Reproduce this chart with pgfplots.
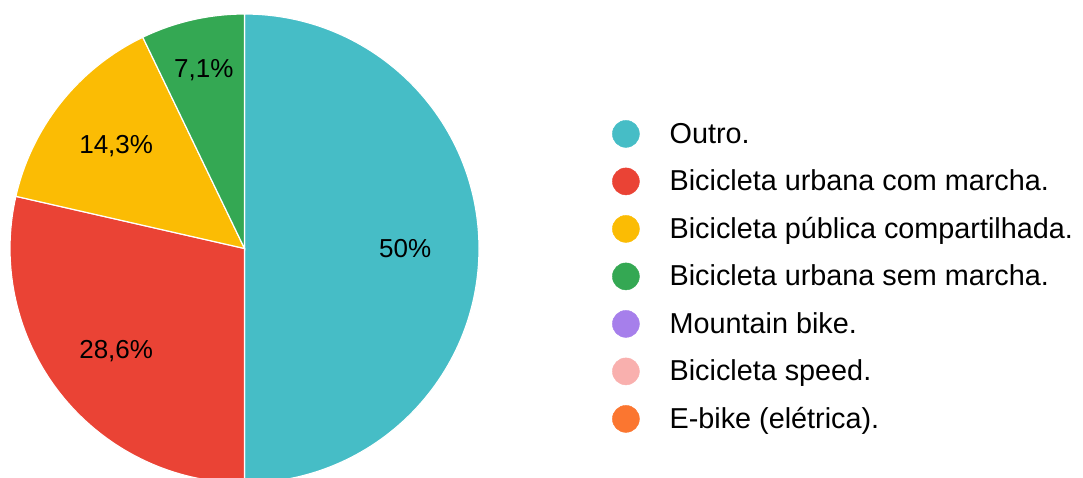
\documentclass[border=0pt]{standalone}
\usepackage{pgfplots}
\usepackage{pgfplotstable}
\pgfplotsset{compat=1.18}
\usepackage{fontspec}
\setmainfont{Liberation Sans}
\definecolor{cTeal}{HTML}{46BDC6}
\definecolor{cRed}{HTML}{EA4335}
\definecolor{cYellow}{HTML}{FBBC04}
\definecolor{cGreen}{HTML}{34A853}
\definecolor{cPurple}{HTML}{A67FEB}
\definecolor{cPink}{HTML}{F9B0AE}
\definecolor{cOrange}{HTML}{FB7630}

\pgfplotstableread{
name value
Outro 7
UrbanaCom 4
Publica 2
UrbanaSem 1
Mountain 0
Speed 0
Ebike 0
}\pietable

\newcommand\legfont{\fontsize{28.8}{34}\selectfont}
\newcommand\labfont{\fontsize{26}{31}\selectfont}

\newcommand\slice[3]{%
  \fill[#3, draw=white, line width=1.2pt] (axis cs:\cx,\cy) -- (axis cs:{\cx+\R*cos(#1)},{\cy+\R*sin(#1)}) arc[start angle=#1, end angle=#2, radius=\R pt] -- cycle;}
\newcommand\slabel[4]{%
  \node[font=\labfont, text=black, inner sep=0pt] at (axis cs:{\cx+#4*\R*cos((#1+#2)/2)},{\cy+#4*\R*sin((#1+#2)/2)}) {#3};}
\newcommand\legcirc[1]{\addlegendimage{legend image code/.code={\fill[#1] (13.5pt,2.2pt) circle (13.5pt);}}}

\begin{document}
\begin{tikzpicture}
\pgfplotstablegetelem{0}{value}\of\pietable\edef\vA{\pgfplotsretval}
\pgfplotstablegetelem{1}{value}\of\pietable\edef\vB{\pgfplotsretval}
\pgfplotstablegetelem{2}{value}\of\pietable\edef\vC{\pgfplotsretval}
\pgfplotstablegetelem{3}{value}\of\pietable\edef\vD{\pgfplotsretval}
\pgfplotstablegetelem{4}{value}\of\pietable\edef\vE{\pgfplotsretval}
\pgfplotstablegetelem{5}{value}\of\pietable\edef\vF{\pgfplotsretval}
\pgfplotstablegetelem{6}{value}\of\pietable\edef\vG{\pgfplotsretval}
\pgfmathsetmacro\tot{\vA+\vB+\vC+\vD+\vE+\vF+\vG}
\pgfmathsetmacro\aA{90}
\pgfmathsetmacro\aB{\aA-360*\vA/\tot}
\pgfmathsetmacro\aC{\aB-360*\vB/\tot}
\pgfmathsetmacro\aD{\aC-360*\vC/\tot}
\pgfmathsetmacro\aE{\aD-360*\vD/\tot}
\def\cx{244.5}
\def\cy{228.5}
\def\R{234.5}
\begin{axis}[
  x=1pt, y=1pt,
  xmin=0, xmax=1083, ymin=0, ymax=477,
  hide axis,
  legend cell align=left,
  legend style={at={(axis cs:612,357)}, anchor=north west, draw=none, fill=none,
    font=\legfont, inner sep=0pt, row sep=17.6pt,
    nodes={inner sep=0pt, text height=21pt, text depth=7pt},
    /tikz/every odd column/.style={column sep=30pt}},
]
\path (axis cs:0,0) rectangle (axis cs:1083,477);
\slice{\aA}{\aB}{cTeal}
\slice{\aB}{\aC}{cRed}
\slice{\aC}{\aD}{cYellow}
\slice{\aD}{\aE}{cGreen}
\slabel{\aA}{\aB}{50\%}{0.685}
\slabel{\aB}{\aC}{28,6\%}{0.70}
\slabel{\aC}{\aD}{14,3\%}{0.70}
\slabel{\aD}{\aE}{7,1\%}{0.78}
\legcirc{cTeal}
\addlegendentry{Outro.}
\legcirc{cRed}
\addlegendentry{Bicicleta urbana com marcha.}
\legcirc{cYellow}
\addlegendentry{Bicicleta pública compartilhada.}
\legcirc{cGreen}
\addlegendentry{Bicicleta urbana sem marcha.}
\legcirc{cPurple}
\addlegendentry{Mountain bike.}
\legcirc{cPink}
\addlegendentry{Bicicleta speed.}
\legcirc{cOrange}
\addlegendentry{E-bike (elétrica).}
\end{axis}
\end{tikzpicture}
\end{document}
